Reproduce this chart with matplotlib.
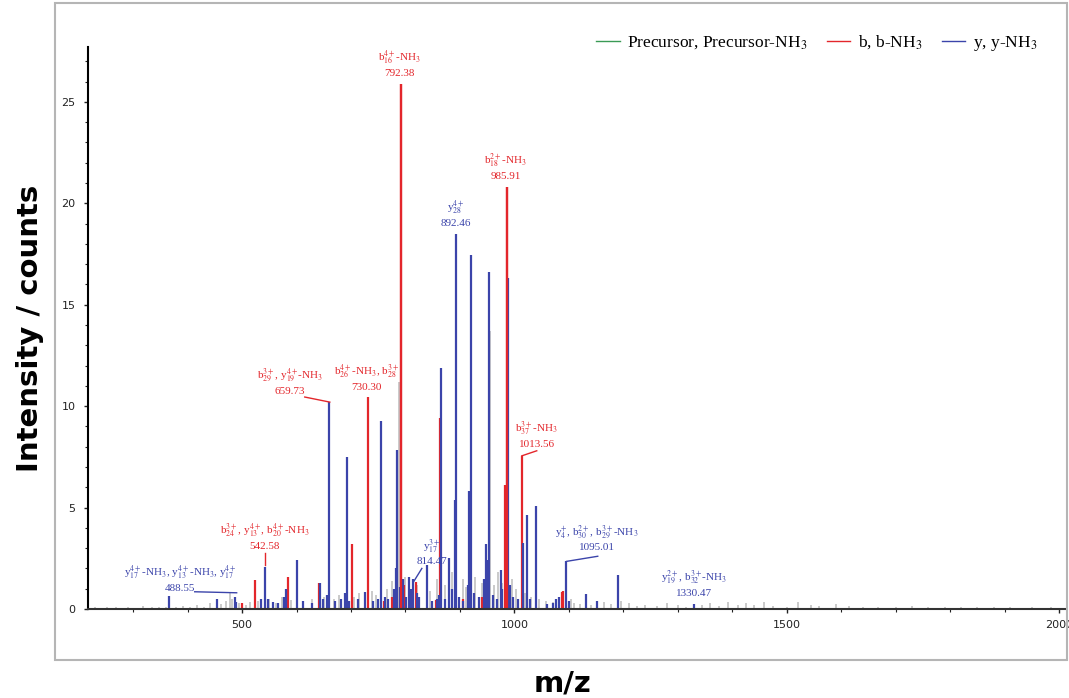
import matplotlib
matplotlib.use("Agg")
import matplotlib.pyplot as plt
from matplotlib.patches import Rectangle
from matplotlib.ticker import MultipleLocator

plt.rcParams['mathtext.fontset'] = 'stix'

# ---- peak lists (m/z, intensity) ----
gray_mz = [230, 252, 268, 290, 305, 318, 335, 347, 360, 378, 392, 405, 418, 430,
           441, 462, 470, 478, 482, 495, 508, 515, 530, 550, 562, 573, 590, 612,
           628, 650, 668, 678, 705, 714, 738, 746, 766, 775, 788, 800, 822, 845,
           858, 872, 886, 905, 912, 928, 940, 955, 962, 970, 978, 995, 1002, 1020,
           1030, 1045, 1058, 1070, 1082, 1103, 1110, 1120, 1140, 1165, 1178, 1196,
           1210, 1225, 1240, 1262, 1280, 1300, 1315, 1345, 1360, 1375, 1392, 1410,
           1425, 1440, 1458, 1475, 1500, 1520, 1545, 1560, 1590, 1615, 1640, 1668,
           1700, 1730, 1760, 1790, 1820, 1850, 1880, 1910, 1950, 1985]
gray_int = [0.1, 0.08, 0.12, 0.1, 0.07, 0.15, 0.1, 0.08, 0.12, 0.1, 0.15, 0.1, 0.2, 0.12,
            0.3, 0.25, 0.4, 0.85, 0.5, 0.3, 0.2, 0.35, 0.4, 0.5, 0.3, 0.6, 0.45, 0.35,
            0.5, 0.6, 0.5, 0.7, 0.6, 0.8, 0.9, 0.7, 1.0, 1.4, 11.2, 1.6, 1.2, 0.9,
            1.5, 1.2, 1.8, 1.5, 1.1, 1.6, 1.3, 13.7, 1.2, 1.8, 1.3, 1.5, 1.0, 0.8,
            0.6, 0.5, 0.4, 0.35, 0.3, 0.5, 0.3, 0.25, 0.2, 0.35, 0.25, 0.4,
            0.3, 0.15, 0.2, 0.15, 0.3, 0.2, 0.1, 0.2, 0.3, 0.15, 0.35, 0.2,
            0.3, 0.2, 0.35, 0.15, 0.1, 0.35, 0.2, 0.15, 0.25, 0.15, 0.1, 0.12,
            0.1, 0.15, 0.1, 0.12, 0.08, 0.1, 0.08, 0.1, 0.08, 0.1]

y_mz = [366, 454, 486.6, 489, 534, 542.58, 548, 556, 566, 577, 581.5, 600, 611, 628,
        642.7, 648, 655, 659.73, 670, 681, 688.6, 691.7, 697, 712, 725, 740, 750,
        754.7, 762, 768, 778, 782, 784.7, 790, 795.7, 801, 806.7, 811, 814.47, 821,
        825, 839.8, 848, 858, 862, 864.4, 872, 880, 886, 890, 892.46, 898, 905, 915,
        917, 919.5, 925, 935, 945, 947, 950, 953.6, 960, 968, 974.5, 978, 988.5,
        992, 997, 1006, 1016, 1023, 1028, 1039.4, 1060, 1070, 1077, 1082, 1095.01,
        1100, 1131, 1152, 1189.4, 1330.47]
y_int = [0.65, 0.5, 0.6, 0.35, 0.5, 2.08, 0.5, 0.35, 0.3, 0.6, 1.0, 2.4, 0.4, 0.3,
         1.3, 0.5, 0.7, 10.2, 0.4, 0.5, 0.8, 7.5, 0.4, 0.5, 0.85, 0.4, 0.5,
         9.27, 0.6, 0.5, 1.0, 2.0, 7.85, 1.1, 1.5, 0.6, 1.58, 1.0, 1.5, 0.8,
         0.6, 2.15, 0.4, 0.5, 0.7, 11.9, 0.5, 2.5, 1.0, 5.37, 18.5, 0.6, 0.4, 1.2,
         5.8, 17.45, 0.8, 0.6, 1.5, 3.2, 2.4, 16.6, 0.7, 0.5, 1.9, 1.0, 16.3,
         1.2, 0.6, 0.5, 3.25, 4.63, 0.5, 5.08, 0.25, 0.3, 0.5, 0.6, 2.37,
         0.4, 0.75, 0.4, 1.68, 0.25]

b_mz = [499, 523, 584.5, 642, 700.9, 730.30, 760, 776, 792.38, 797, 819, 855.7,
        863.5, 905, 940, 982.5, 985.91, 1013.56, 1086.6, 1088.5]
b_int = [0.3, 1.43, 1.6, 1.3, 3.2, 10.45, 0.4, 0.6, 25.9, 1.2, 1.35, 0.45,
         9.4, 0.5, 0.6, 6.1, 20.8, 7.55, 0.85, 0.9]

prec_mz = []
prec_int = []

# ---- annotations ----
ann_names = [r"b$_{16}^{4+}$-NH$_3$", r"b$_{18}^{2+}$-NH$_3$", r"y$_{28}^{4+}$",
             r"b$_{29}^{3+}$, y$_{19}^{4+}$-NH$_3$", r"b$_{26}^{4+}$-NH$_3$, b$_{28}^{3+}$",
             r"b$_{37}^{3+}$-NH$_3$", r"b$_{24}^{3+}$, y$_{13}^{4+}$, b$_{20}^{4+}$-NH$_3$",
             r"y$_{17}^{3+}$", r"y$_{17}^{4+}$-NH$_3$, y$_{13}^{4+}$-NH$_3$, y$_{17}^{4+}$",
             r"y$_4^{+}$, b$_{30}^{2+}$, b$_{29}^{3+}$-NH$_3$", r"y$_{19}^{2+}$, b$_{32}^{3+}$-NH$_3$"]
ann_mz = [792.38, 985.91, 892.46, 659.73, 730.30, 1013.56, 542.58, 814.47, 488.55,
          1095.01, 1330.47]
ann_color = ['r', 'r', 'b', 'r', 'r', 'r', 'r', 'b', 'b', 'b', 'b']
# text anchor (bottom centre) and leader line, in data coords
ann_xy = [(789, 26.2), (984, 21.1), (892, 18.8), (588, 10.5), (729, 10.7),
          (1041, 7.9), (542, 2.85), (848, 2.1), (386, 0.78), (1151, 2.8), (1330, 0.55)]
ann_lead = [None, None, None, ((615, 10.45), (661, 10.2)), None,
            ((1013.5, 7.55), (1041, 7.8)), ((542.6, 2.75), (542.6, 2.15)),
            ((830, 2.0), (815, 1.35)), ((413, 0.85), (490, 0.8)),
            ((1096, 2.35), (1153, 2.6)), None]

RED = '#e3262b'
BLUE = '#3b44aa'
GREEN = '#3a9a55'
GRAY = '#c6c6c6'
cmap = {'r': RED, 'b': BLUE}

fig = plt.figure(figsize=(10.69, 6.98), dpi=100)
ax = fig.add_axes([0.0823, 0.1275, 0.9140, 0.805])

ax.vlines(gray_mz, 0, gray_int, color=GRAY, lw=1.3)
ax.vlines(b_mz, 0, b_int, color=RED, lw=1.6)
ax.vlines(y_mz, 0, y_int, color=BLUE, lw=1.6)
# the two tallest b peaks sit in front
ax.vlines(b_mz[8], 0, b_int[8], color=RED, lw=1.6)
ax.vlines(b_mz[16], 0, b_int[16], color=RED, lw=1.6)
ax.plot(prec_mz, prec_int, color=GREEN, lw=1, label="Precursor, Precursor-NH$_3$")
ax.plot([], [], color=RED, lw=1, label="b, b-NH$_3$")
ax.plot([], [], color=BLUE, lw=1, label="y, y-NH$_3$")

for name, mz, c, xy, lead in zip(ann_names, ann_mz, ann_color, ann_xy, ann_lead):
    ax.text(xy[0], xy[1], name + "\n" + "%.2f" % mz, color=cmap[c], ha='center',
            va='bottom', fontsize=8, family='Liberation Serif', linespacing=1.25)
    if lead is not None:
        ax.plot([lead[0][0], lead[1][0]], [lead[0][1], lead[1][1]], color=cmap[c], lw=1)

ax.set_xlim(217, 2011)
ax.set_ylim(0, 27.7)
ax.set_xticks([500, 1000, 1500, 2000])
ax.xaxis.set_minor_locator(MultipleLocator(100))
ax.set_yticks([0, 5, 10, 15, 20, 25])
ax.yaxis.set_minor_locator(MultipleLocator(1))
ax.tick_params(which='both', direction='out', labelsize=8, colors='#222222')
ax.tick_params(which='major', length=3, width=1)
ax.tick_params(which='minor', length=2, width=0.8)
ax.tick_params(axis='y', pad=6)
ax.tick_params(axis='x', pad=5)
for side in ['top', 'right']:
    ax.spines[side].set_visible(False)
ax.spines['left'].set_linewidth(1.5)
ax.spines['bottom'].set_linewidth(1.5)
ax.spines['bottom'].set_color('#333333')

leg = ax.legend(loc='upper right', bbox_to_anchor=(1053 / 1069, 1 - 18 / 698),
                bbox_transform=fig.transFigure, ncol=3, frameon=False,
                prop={'family': 'Liberation Serif', 'size': 12.5},
                handlelength=1.35, columnspacing=1.1, handletextpad=0.45)

fig.add_artist(Rectangle((55 / 1069, 1 - 660 / 698), 1012 / 1069, 657 / 698,
                         transform=fig.transFigure, fill=False,
                         edgecolor='#b5b5b5', lw=1.5))
fig.text(30 / 1069, 1 - 328 / 698, "Intensity / counts", rotation=90, ha='center',
         va='center', fontsize=21, fontweight='bold', family='DejaVu Sans')
fig.text(562 / 1069, 1 - 683 / 698, "m/z", ha='center', va='center',
         fontsize=21, fontweight='bold', family='DejaVu Sans')

fig.savefig("out.png", dpi=100)
